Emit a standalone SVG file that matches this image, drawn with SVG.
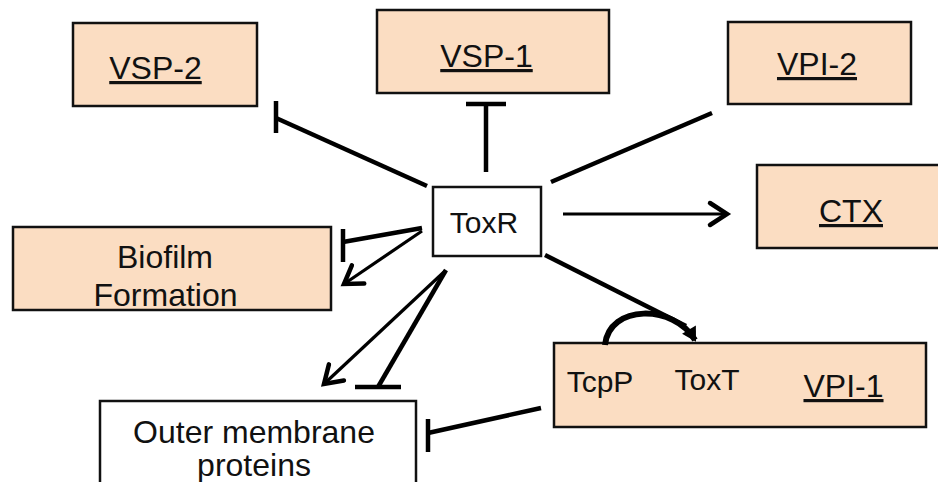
<svg xmlns="http://www.w3.org/2000/svg" width="938" height="482" viewBox="0 0 938 482">
  <defs>
    <style>
      .box { fill: #FBDDC2; stroke: #111; stroke-width: 2.5; }
      .wbox { fill: #fff; stroke: #111; stroke-width: 2.5; }
      .lbl { font-family: "Liberation Sans", Arial, sans-serif; font-size: 32px; fill: #111; text-anchor: middle; }
      .lbl30 { font-family: "Liberation Sans", Arial, sans-serif; font-size: 30px; fill: #111; text-anchor: middle; }
      .u { text-decoration: underline; }
      .thick { stroke: #000; stroke-width: 4.5; fill: none; }
      .thin { stroke: #000; stroke-width: 3.2; fill: none; }
    </style>
    <marker id="chev" markerUnits="userSpaceOnUse" viewBox="-24 -16 28 32" markerWidth="28" markerHeight="32" refX="0" refY="0" orient="auto" overflow="visible">
      <path d="M -17 -11 L 0 0 L -17 11" fill="none" stroke="#000" stroke-width="4.5" stroke-linecap="round" stroke-linejoin="miter"/>
    </marker>
    <marker id="tri" markerUnits="userSpaceOnUse" viewBox="-14 -10 16 20" markerWidth="16" markerHeight="20" refX="0" refY="0" orient="auto" overflow="visible">
      <path d="M -12 -8 L 2 0 L -12 8 Z" fill="#000"/>
    </marker>
  </defs>

  <g id="node-vsp2">
    <rect class="box" x="73" y="23" width="184" height="83"/>
    <text class="lbl u" x="155.5" y="79">VSP-2</text>
  </g>
  <g id="node-vsp1">
    <rect class="box" x="377" y="10" width="232" height="83"/>
    <text class="lbl u" x="486.5" y="67">VSP-1</text>
  </g>
  <g id="node-vpi2">
    <rect class="box" x="728" y="22" width="183" height="82"/>
    <text class="lbl u" x="817" y="75">VPI-2</text>
  </g>
  <g id="node-ctx">
    <rect class="box" x="757" y="165" width="190" height="83"/>
    <text class="lbl u" x="851" y="222">CTX</text>
  </g>
  <g id="node-toxr">
    <rect class="wbox" x="433" y="187" width="108" height="69"/>
    <text class="lbl30" x="484" y="233">ToxR</text>
  </g>
  <g id="node-biofilm">
    <rect class="box" x="13" y="227" width="318" height="83"/>
    <text class="lbl" x="165" y="268">Biofilm</text>
    <text class="lbl" x="165.5" y="306">Formation</text>
  </g>
  <g id="node-vpi1">
    <rect class="box" x="554" y="343" width="372" height="84"/>
    <text class="lbl30" x="600" y="392">TcpP</text>
    <text class="lbl30" x="707" y="390">ToxT</text>
    <text class="lbl u" x="843.5" y="397">VPI-1</text>
  </g>
  <g id="node-omp">
    <rect class="wbox" x="100" y="401" width="316" height="100"/>
    <text class="lbl" x="254" y="443">Outer membrane</text>
    <text class="lbl" x="254" y="476">proteins</text>
  </g>

  <g id="connectors">
    <line class="thick" x1="427" y1="186" x2="276" y2="118"/>
    <line class="thick" x1="276" y1="101" x2="276" y2="133"/>
    <line class="thick" x1="486" y1="172" x2="486" y2="104"/>
    <line class="thick" x1="466" y1="104" x2="506" y2="104"/>
    <line class="thick" x1="551" y1="182" x2="712" y2="113"/>
    <line class="thin" x1="563" y1="214" x2="727" y2="214" marker-end="url(#chev)"/>
    <line class="thick" x1="422" y1="228" x2="343" y2="242"/>
    <line class="thick" x1="343" y1="229" x2="343" y2="262"/>
    <line class="thin" x1="422" y1="231" x2="344" y2="284" marker-end="url(#chev)"/>
    <line class="thin" x1="445" y1="271" x2="324" y2="384" marker-end="url(#chev)"/>
    <line class="thick" x1="446" y1="270" x2="378" y2="387"/>
    <line class="thick" x1="355" y1="387" x2="401" y2="387"/>
    <line class="thick" x1="541" y1="408" x2="428" y2="433"/>
    <line class="thick" x1="428" y1="419" x2="428" y2="452"/>
    <line class="thick" x1="545" y1="255" x2="686" y2="326"/>
    <path d="M 605 345 C 609 304, 674 304, 695 340" fill="none" stroke="#000" stroke-width="6" marker-end="url(#tri)"/>
  </g>
</svg>
